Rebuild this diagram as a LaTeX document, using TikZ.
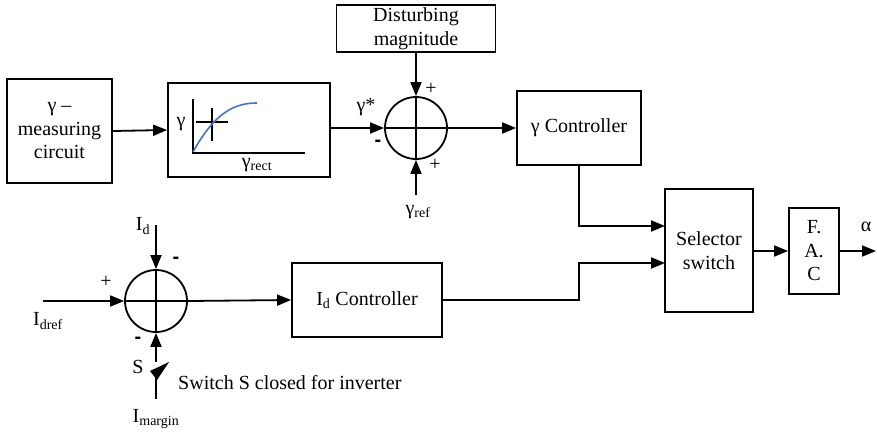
\documentclass[tikz,border=0pt]{standalone}
\usepackage{fontspec}
\setmainfont{Liberation Serif}
\newfontfamily\minusfont{Liberation Sans}
\usetikzlibrary{arrows.meta,calc}
\newcommand\mysub[1]{\textsubscript{#1}}
\newcommand\mymin{{\minusfont\bfseries -}}
\definecolor{curveblue}{RGB}{68,114,196}
\begin{document}
\begin{tikzpicture}[x=1pt,y=-1pt,
  font=\fontsize{20}{23.5}\selectfont,
  lw/.style={line width=1.8pt},
  blk/.style={draw,lw,rectangle,inner sep=0pt,align=center},
  sumj/.style={draw,lw,circle,inner sep=0pt,minimum size=62pt},
  arr/.style={lw,-{Triangle[length=14pt,width=11pt]}},
  con/.style={lw},
  lbl/.style={inner sep=0pt}]
\useasboundingbox (0,0) rectangle (877,434);
% blocks
\node[blk,minimum width=105pt,minimum height=104pt] (meas) at (59.5,131) {γ –\\measuring\\circuit};
\node[blk,minimum width=162pt,minimum height=94pt] (graph) at (249,130) {};
\node[blk,minimum width=159pt,minimum height=47pt] (dist) at (416,28.5) {Disturbing\\magnitude};
\node[sumj] (s1) at (416,128) {};
\node[blk,minimum width=124pt,minimum height=74pt] (gc) at (579,128) {γ Controller};
\node[blk,minimum width=88pt,minimum height=123pt] (sel) at (709,250.5) {Selector\\switch};
\node[blk,minimum width=50pt,minimum height=86pt] (fac) at (814,251) {F.\\A.\\C};
\node[sumj] (s2) at (156,301) {};
\node[blk,minimum width=150pt,minimum height=74pt] (idc) at (367,300) {I\mysub{d} Controller};
% summing junction crosses
\draw[con] (s1.north) -- (s1.south) (s1.west) -- (s1.east);
\draw[con] (s2.north) -- (s2.south) (s2.west) -- (s2.east);
% graph inside
\draw[con] (193,99) -- (193,153) -- (305,153);
\draw[con] (196,122) -- (228,122) (212,108) -- (212,141);
\draw[line width=1.6pt,curveblue] (193,152) .. controls (215,112) and (235,103) .. (257,103);
\node[lbl] (gy) at (181,124) {γ};
\node[lbl] (gx) at (257,165) {γ\mysub{rect}};
% coordinates
\coordinate (gref) at (416,195);
\coordinate (in1) at (665,226);
\coordinate (in2) at (665,263);
\coordinate (out) at (876,251);
\coordinate (idref) at (43,301);
\coordinate (idtop) at (156,225);
\coordinate (sw1) at (156,362);
\coordinate (sw2) at (156,377);
\coordinate (imarg) at (156,399);
% connectors
\draw[arr] (meas.east) -- (graph.west);
\draw[arr] (graph.east |- s1) -- (s1.west);
\draw[arr] (dist.south) -- (s1.north);
\draw[arr] (gref) -- (s1.south);
\draw[arr] (s1.east) -- (gc.west);
\draw[arr] (gc.south) |- (in1);
\draw[arr] (idc.east) -- (idc.east -| gc.south) |- (in2);
\draw[arr] (sel.east |- fac.west) -- (fac.west);
\draw[arr] (fac.east) -- (out);
\draw[arr] (idref) -- (s2.west);
\draw[arr] (idtop) -- (s2.north);
\draw[arr] (s2.east) -- (idc.west);
\draw[arr] (sw1) -- (s2.south);
\draw[con] (sw2) -- (imarg);
\fill (150,371) -- (169,362) -- (157,380) -- cycle;
% labels
\node[lbl] (gstar) at (366,107) {γ*};
\node[lbl] (p1) at (431,89) {+};
\node[lbl] (m1) at (378,143) {\mymin};
\node[lbl] (p2) at (435,165) {+};
\node[lbl] (gr) at (418,212) {γ\mysub{ref}};
\node[lbl] (alpha) at (866,227) {α};
\node[lbl] (idl) at (143,226) {I\mysub{d}};
\node[lbl] (m2) at (176,260) {\mymin};
\node[lbl] (p3) at (106,282) {+};
\node[lbl] (idr) at (48,321) {I\mysub{dref}};
\node[lbl] (m3) at (138,340) {\mymin};
\node[lbl] (sl) at (138,367) {S};
\node[lbl,anchor=west] (swt) at (178,383) {Switch S closed for inverter};
\node[lbl] (im) at (156,419) {I\mysub{margin}};
\end{tikzpicture}
\end{document}
